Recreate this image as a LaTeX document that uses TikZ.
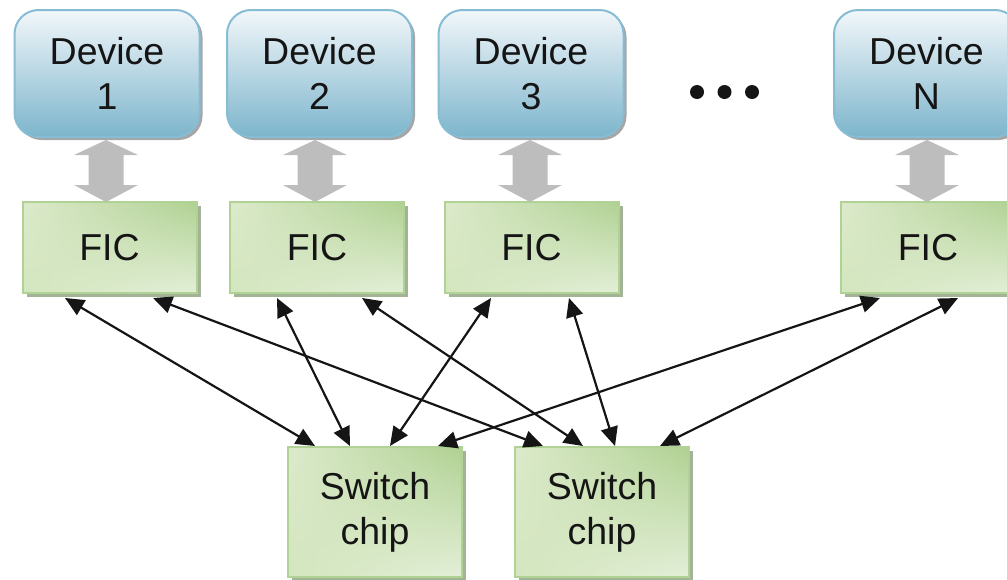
\documentclass[tikz,border=0pt]{standalone}
\usepackage{fontspec}
\setmainfont{Liberation Sans}
\usetikzlibrary{arrows.meta,shadows,calc,shadings}
\definecolor{devtop}{HTML}{F2F7FA}
\definecolor{devbot}{HTML}{7DB5CC}
\definecolor{devline}{HTML}{86BDD5}
\definecolor{ficul}{HTML}{DCEACB}
\definecolor{ficur}{HTML}{B0D192}
\definecolor{ficll}{HTML}{D3E6BE}
\definecolor{ficlr}{HTML}{E3EFD8}
\definecolor{ficline}{HTML}{B0D294}
\definecolor{ficshadow}{HTML}{A3B396}
\definecolor{ink}{HTML}{151515}
\definecolor{garrow}{HTML}{BDBDBD}
\begin{document}
\begin{tikzpicture}[x=1pt,y=-1pt,
  txt/.style={font=\fontsize{37.5}{45}\selectfont, text=ink, align=center, inner sep=0pt, outer sep=0pt},
  device/.style={txt, rounded corners=24pt, draw=devline, line width=2pt,
    top color=devtop, bottom color=devbot, minimum width=185pt, minimum height=127pt,
    drop shadow={shadow xshift=3pt, shadow yshift=-3pt, fill=black, opacity=0.35}},
  fic/.style={txt, draw=ficline, line width=2pt,
    upper left=ficul, upper right=ficur, lower left=ficll, lower right=ficlr,
    minimum width=174pt, minimum height=91pt,
    drop shadow={shadow xshift=4pt, shadow yshift=-4pt, fill=ficshadow, opacity=1}},
  sw/.style={fic, minimum width=174pt, minimum height=130pt},
  link/.style={draw=ink, line width=2.2pt, {Triangle[length=19pt,width=17pt]}-{Triangle[length=19pt,width=17pt]}},
  dot/.style={circle, fill=ink, inner sep=0pt, minimum size=14pt},
  garrowfill/.style={fill=garrow}
]
\useasboundingbox (0,0) rectangle (1007,579);
\clip (0,0) rectangle (1007,579);

% devices
\node[device] (D1) at (107,73.5) {Device\\1};
\node[device] (D2) at (319.5,73.5) {Device\\2};
\node[device] (D3) at (531,73.5) {Device\\3};
\node[device] (DN) at (926.5,73.5) {Device\\N};

% dots
\node[dot] (dot1) at (697,92) {};
\node[dot] (dot2) at (724.5,92) {};
\node[dot] (dot3) at (752,92) {};

% FICs
\node[fic] (F1) at (109.5,247.5) {FIC};
\node[fic] (F2) at (317,247.5) {FIC};
\node[fic] (F3) at (531.5,247.5) {FIC};
\node[fic] (FN) at (928,247.5) {FIC};

% switch chips
\node[sw] (S1) at (375,512) {Switch\\chip};
\node[sw] (S2) at (602,512) {Switch\\chip};

% gray double arrows
\foreach \d/\f/\dx in {D1/F1/-1, D2/F2/-4.5, D3/F3/-1, DN/FN/0.5}{
  \fill[garrowfill] let \p1=(\d.south), \p2=(\f.north) in
    (\x1+\dx pt,\y1-3pt) -- (\x1+\dx pt+32pt,\y1-18pt) -- (\x1+\dx pt+17.5pt,\y1-18pt)
    -- (\x1+\dx pt+17.5pt,\y2+17pt) -- (\x1+\dx pt+32pt,\y2+17pt) -- (\x1+\dx pt,\y2)
    -- (\x1+\dx pt-32pt,\y2+17pt) -- (\x1+\dx pt-17.5pt,\y2+17pt) -- (\x1+\dx pt-17.5pt,\y1-18pt)
    -- (\x1+\dx pt-32pt,\y1-18pt) -- cycle;
}

% links
\draw[link] ($(F1.south)+(-44.5,5)$) -- ($(S1.north)+(-60,-1)$);
\draw[link] ($(F1.south)+(43.5,5)$) -- ($(S2.north)+(-59,-1)$);
\draw[link] ($(F2.south)+(-40,5)$) -- ($(S1.north)+(-25,-1)$);
\draw[link] ($(F2.south)+(45,5)$) -- ($(S2.north)+(-19,-1)$);
\draw[link] ($(F3.south)+(-40.5,5)$) -- ($(S1.north)+(15,-1)$);
\draw[link] ($(F3.south)+(37.5,5)$) -- ($(S2.north)+(13,-1)$);
\draw[link] ($(FN.south)+(-48,5)$) -- ($(S1.north)+(63,-1)$);
\draw[link] ($(FN.south)+(30,5)$) -- ($(S2.north)+(58,-1)$);
\end{tikzpicture}
\end{document}
